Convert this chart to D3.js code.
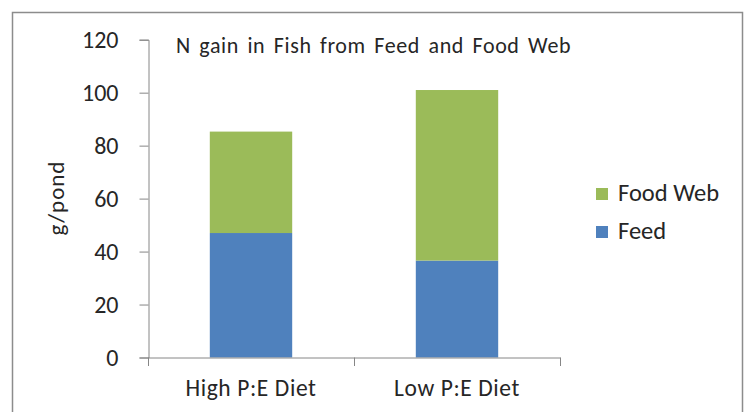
<!DOCTYPE html>
<html>
<head>
<meta charset="utf-8">
<script src="https://cdn.jsdelivr.net/npm/d3@7"></script>
<style>
  body { margin: 0; background: #fff; }
  text { font-family: Carlito, Calibri, Lato, sans-serif; fill: #262626; }
</style>
</head>
<body>
<div id="chart"></div>
<script>
let width = 747,
    height = 412;

// data
const categories = ["High P:E Diet", "Low P:E Diet"];
const feed = [47, 36.6];
const foodWeb = [38.3, 64.4];
const seriesNames = ["Feed", "Food Web"];
const seriesColors = ["#4f81bd", "#9bbb59"];
const yTicks = [0, 20, 40, 60, 80, 100, 120];

const svg = d3.select("#chart")
  .append("svg")
  .attr("width", width)
  .attr("height", height);

// outer frame (bottom is cut off in the picture)
svg.append("path")
  .attr("d", "M12.5,420V12.5H742.5V420")
  .attr("fill", "none")
  .attr("stroke", "#8c8c8c")
  .attr("stroke-width", 1.5);

const x = d3.scaleBand()
  .domain(categories)
  .range([148, 560])
  .paddingInner(0.6)
  .paddingOuter(0.3);

const y = d3.scaleLinear()
  .domain([0, 120])
  .range([357.5, 39.7]);

const rows = categories.map(function (c, i) {
  return { cat: c, "Feed": feed[i], "Food Web": foodWeb[i] };
});

const stack = d3.stack().keys(seriesNames);
const layers = stack(rows);

const color = d3.scaleOrdinal().domain(seriesNames).range(seriesColors);

svg.selectAll(".layer")
  .data(layers)
  .enter().append("g")
  .attr("class", "layer")
  .attr("fill", function (d) { return color(d.key); })
  .selectAll("rect")
  .data(function (d) { return d; })
  .enter().append("rect")
  .attr("x", function (d) { return x(d.data.cat); })
  .attr("width", x.bandwidth())
  .attr("y", function (d) { return y(d[1]); })
  .attr("height", function (d) { return y(d[0]) - y(d[1]); });

// y axis
const yAxis = svg.append("g")
  .attr("transform", "translate(148.5,0)")
  .call(d3.axisLeft(y).tickValues(yTicks).tickSize(9).tickPadding(21));
yAxis.select(".domain").attr("stroke", "#868686");
yAxis.selectAll(".tick line").attr("stroke", "#868686");
yAxis.selectAll(".tick text")
  .attr("font-size", 24)
  .attr("fill", "#262626")
  .attr("font-family", "Carlito, Calibri, Lato, sans-serif");

// x axis
const xAxis = svg.append("g")
  .attr("transform", "translate(0,357.5)")
  .call(d3.axisBottom(x).tickSize(0).tickPadding(22));
xAxis.select(".domain").attr("stroke", "#868686");
xAxis.selectAll(".tick text")
  .attr("font-size", 23.5)
  .attr("letter-spacing", 0.6)
  .attr("fill", "#262626")
  .attr("font-family", "Carlito, Calibri, Lato, sans-serif");

// category boundary ticks
const bounds = [x.range()[0], x.range()[0] + x.step(), x.range()[1]];
svg.selectAll(".ctick")
  .data(bounds)
  .enter().append("line")
  .attr("class", "ctick")
  .attr("x1", function (d) { return Math.round(d) + 0.5; })
  .attr("x2", function (d) { return Math.round(d) + 0.5; })
  .attr("y1", 357.5)
  .attr("y2", 366)
  .attr("stroke", "#868686");

// title
svg.append("text")
  .attr("x", 176)
  .attr("y", 53)
  .attr("font-size", 22)
  .attr("letter-spacing", 0.6)
  .attr("word-spacing", 3)
  .text("N gain in Fish from Feed and Food Web");

// y label
svg.append("text")
  .attr("transform", "translate(64,198) rotate(-90)")
  .attr("text-anchor", "middle")
  .attr("font-size", 23)
  .attr("letter-spacing", 1)
  .text("g/pond");

// legend
const legendItems = ["Food Web", "Feed"];
const legend = svg.selectAll(".legend")
  .data(legendItems)
  .enter().append("g")
  .attr("class", "legend")
  .attr("transform", function (d, i) { return "translate(596," + (188 + i * 38) + ")"; });

legend.append("rect")
  .attr("width", 12)
  .attr("height", 12)
  .attr("fill", function (d) { return color(d); });

legend.append("text")
  .attr("x", 22)
  .attr("y", 13)
  .attr("font-size", 24.5)
  .text(function (d) { return d; });
</script>
</body>
</html>
